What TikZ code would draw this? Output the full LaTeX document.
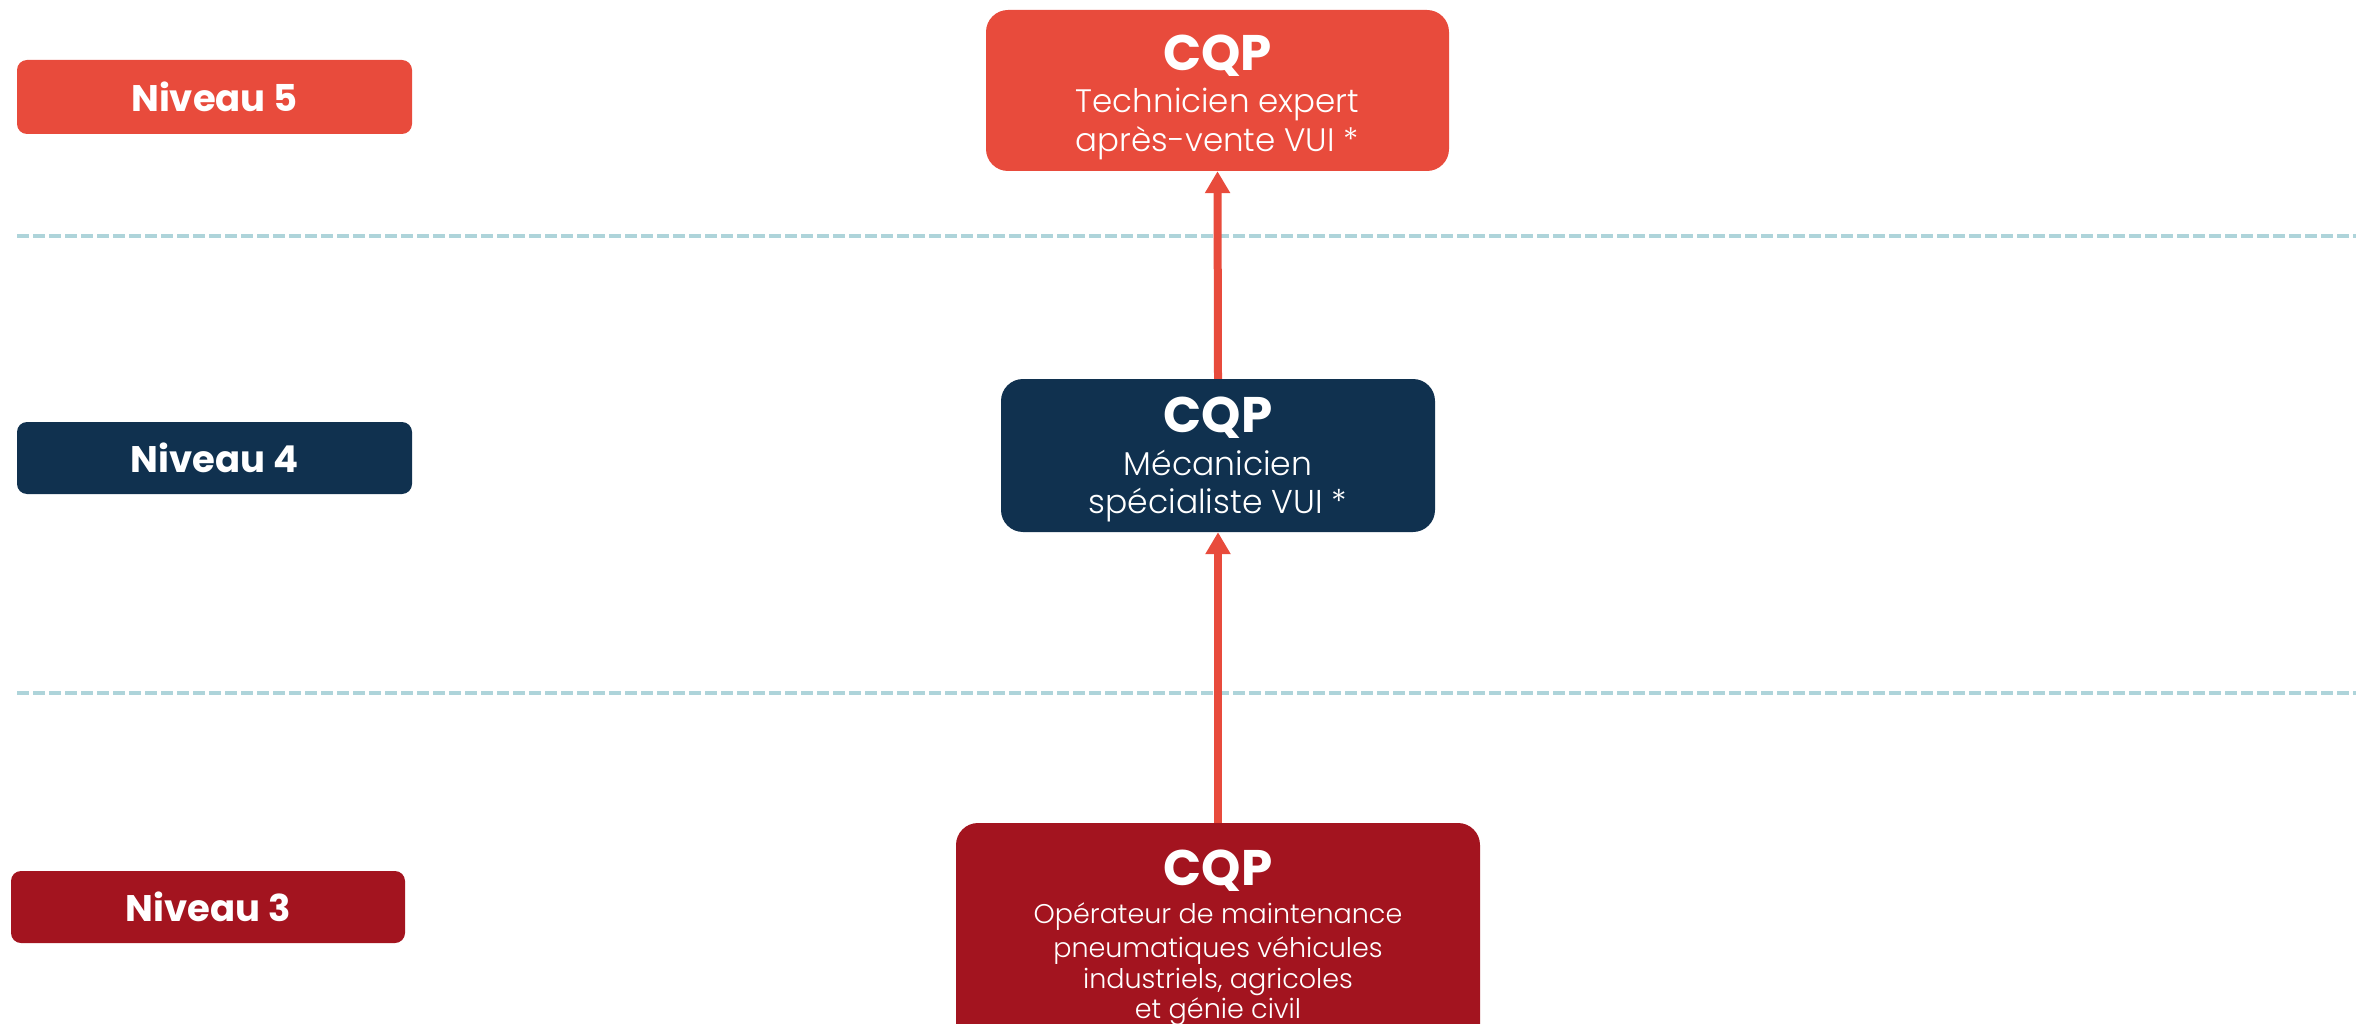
\documentclass[tikz,border=0pt]{standalone}
\usepackage{fontspec}
\setmainfont{Poppins}
\newfontfamily\plight{Poppins Light}
\usetikzlibrary{arrows.meta}
\definecolor{cOrange}{HTML}{E84B3C}
\definecolor{cNavy}{HTML}{10314F}
\definecolor{cDark}{HTML}{A3141F}
\definecolor{cDash}{HTML}{AED4DA}
\tikzset{
  levelbox/.style={rectangle, rounded corners=10pt, inner sep=0pt, text=white,
    font=\fontsize{37}{40}\selectfont\bfseries},
  cqpbox/.style={rectangle, rounded corners=22pt, inner sep=0pt},
  cqptitle/.style={anchor=base, text=white, inner sep=0pt, font=\fontsize{50}{54}\selectfont\bfseries},
  cqpline/.style={anchor=base, text=white, inner sep=0pt},
  sepline/.style={cDash, line width=4pt, dash pattern=on 12pt off 4pt},
  uparrow/.style={cOrange, line width=8pt, -{Triangle[width=24pt,length=22pt]}, shorten >=0pt}
}
\begin{document}
\begin{tikzpicture}[x=1pt,y=-1pt]
\useasboundingbox (0,0) rectangle (2356,1024);
\clip (0,0) rectangle (2356,1024);
% separators
\coordinate (s1a) at (17,236); \coordinate (s1b) at (2356,236);
\coordinate (s2a) at (17,693); \coordinate (s2b) at (2356,693);
\draw[sepline] (s1a) -- (s1b);
\draw[sepline] (s2a) -- (s2b);
% level labels
\node[levelbox, fill=cOrange, minimum width=395pt, minimum height=74pt] (n5) at (214.5,97) {Niveau 5};
\node[levelbox, fill=cNavy, minimum width=395pt, minimum height=72pt] (n4) at (214.5,458) {Niveau 4};
\node[levelbox, fill=cDark, minimum width=394pt, minimum height=72pt] (n3) at (208,907) {Niveau 3};
% CQP boxes
\node[cqpbox, fill=cOrange, minimum width=463pt, minimum height=161pt] (b5) at (1217.5,90.5) {};
\node[cqpbox, fill=cNavy, minimum width=434pt, minimum height=153pt] (b4) at (1218,455.5) {};
\node[cqpbox, fill=cDark, minimum width=524pt, minimum height=240pt] (b3) at (1218,943) {};
% top box text
\node[cqptitle] (t5) at (1217.5,71) {CQP};
\node[cqpline, font=\fontsize{32.5}{36}\plight] (t5a) at (1217.5,113) {Technicien expert};
\node[cqpline, font=\fontsize{32.5}{36}\plight] (t5b) at (1217.5,152) {après-vente VUI *};
% mid box text
\node[cqptitle] (t4) at (1218,432) {CQP};
\node[cqpline, font=\fontsize{33}{36}\plight] (t4a) at (1218,475) {Mécanicien};
\node[cqpline, font=\fontsize{33}{36}\plight] (t4b) at (1218,513) {spécialiste VUI *};
% bottom box text
\node[cqptitle] (t3) at (1218,885) {CQP};
\node[cqpline, font=\fontsize{27}{30}\plight] (t3a) at (1218,923) {Opérateur de maintenance};
\node[cqpline, font=\fontsize{27}{30}\plight] (t3b) at (1218,957) {pneumatiques véhicules};
\node[cqpline, font=\fontsize{27}{30}\plight] (t3c) at (1218,988) {industriels, agricoles};
\node[cqpline, font=\fontsize{27}{30}\plight] (t3d) at (1218,1018) {et génie civil};
% arrows
\draw[uparrow] (b3.north) -- (b4.south);
\draw[uparrow] (b4.north) -- (b5.south);
\end{tikzpicture}
\end{document}
